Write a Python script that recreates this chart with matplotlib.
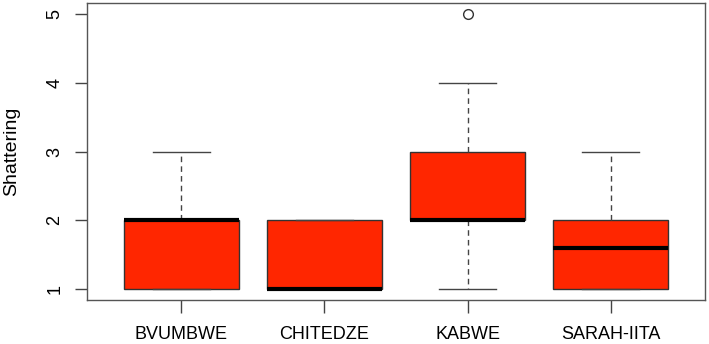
import matplotlib
matplotlib.use("Agg")
import matplotlib.pyplot as plt

categories = ["BVUMBWE", "CHITEDZE", "KABWE", "SARAH-IITA"]
whisker_low = [1, 1, 1, 1]
q1 = [1, 1, 2, 1]
median = [2, 1, 2, 1.6]
q3 = [2, 2, 3, 2]
whisker_high = [3, 2, 4, 3]
outliers = [[], [], [5], []]
yticks = [1, 2, 3, 4, 5]

plt.rcParams['font.family'] = ['Liberation Sans', 'DejaVu Sans']

fig = plt.figure(figsize=(7.09, 3.44), dpi=100)
ax = fig.add_axes([87/709, 44/344, (705-87)/709, (300-3)/344])

stats = []
for i, c in enumerate(categories):
    stats.append(dict(label=c, whislo=whisker_low[i], q1=q1[i], med=median[i],
                      q3=q3[i], whishi=whisker_high[i], fliers=outliers[i]))

edge = '#333333'
ax.bxp(stats, positions=range(1, len(categories)+1), widths=0.8, patch_artist=True,
       boxprops=dict(facecolor='#FF2600', edgecolor=edge, linewidth=1),
       medianprops=dict(color='black', linewidth=3, solid_capstyle='butt'),
       whiskerprops=dict(color='#444444', linewidth=1, linestyle=(0, (4, 3))),
       capprops=dict(color='#444444', linewidth=1),
       capwidths=0.4,
       flierprops=dict(marker='o', markerfacecolor='none', markeredgecolor='#333333',
                       markersize=7, markeredgewidth=1))

fs = 13
ax.set_xlim(0.34, 4.66)
ax.set_ylim(0.84, 5.16)
ax.set_yticks(yticks)
ax.set_yticklabels([str(t) for t in yticks], rotation=90, va='center', fontsize=fs)
ax.set_xticks(range(1, len(categories)+1))
ax.set_xticklabels(categories, fontsize=fs)
ax.tick_params(axis='both', direction='out', length=9, width=1, color='#444444')
ax.tick_params(axis='y', pad=8)
ax.tick_params(axis='x', pad=10)
for s in ax.spines.values():
    s.set_color('#555555')
    s.set_linewidth(1)
ax.set_ylabel("Shattering", fontsize=14)
ax.yaxis.set_label_coords(-67/618, 0.5)

fig.savefig("out.png", dpi=100)
